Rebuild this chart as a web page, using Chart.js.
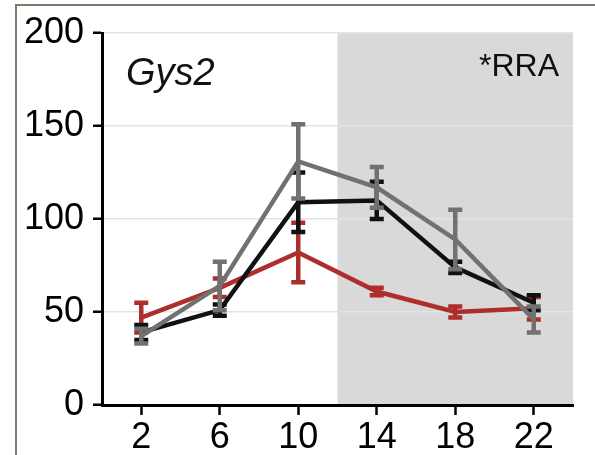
<!DOCTYPE html>
<html>
<head>
<meta charset="utf-8">
<script src="https://cdn.jsdelivr.net/npm/chart.js@4.4.1/dist/chart.umd.min.js"></script>
<style>
  html, body { margin: 0; padding: 0; background: #ffffff; }
  #wrap { width: 595px; height: 455px; position: relative; }
</style>
</head>
<body>
<div id="wrap"><canvas id="c" width="595" height="455"></canvas></div>
<script>
// ---- data ----
const hours = [2, 6, 10, 14, 18, 22];
const xTickLabels = [2, 6, 10, 14, 18, 22];
const yTickLabels = [0, 50, 100, 150, 200];
const redMean = [47, 63, 82, 61, 50, 52];
const redErr = [8, 5, 16, 2, 3, 6];
const blackMean = [39, 51, 109, 110, 74, 55];
const blackErr = [4, 3, 16, 10, 3, 4];
const grayMean = [37, 64, 131, 117, 89, 46];
const grayErr = [4, 13, 20, 11, 16, 7];
const darkPhase = [12, 24];
const geneLabel = 'Gys2';
const noteLabel = '*RRA';

const RED = '#ad2e2a', BLACK = '#111111', GRAY = '#717171';

function pts(ys) { return hours.map((h, i) => ({ x: h, y: ys[i] })); }

const errorSets = [redErr, blackErr, grayErr];

const shadePlugin = {
  id: 'shade',
  beforeDraw(chart) {
    const { ctx, chartArea: a, scales: { x } } = chart;
    ctx.save();
    ctx.fillStyle = '#d9d9d9';
    const x0 = x.getPixelForValue(darkPhase[0]);
    const x1 = x.getPixelForValue(darkPhase[1]);
    ctx.fillRect(x0, a.top, x1 - x0, a.bottom - a.top);
    ctx.restore();
  }
};

const errPlugin = {
  id: 'errbars',
  afterDatasetDraw(chart, args) {
    const i = args.index;
    const ds = chart.data.datasets[i];
    const errs = errorSets[i];
    const { ctx, scales: { x, y } } = chart;
    ctx.save();
    ctx.strokeStyle = ds.borderColor;
    ctx.lineWidth = 4.5;
    ctx.lineCap = 'butt';
    ds.data.forEach((p, k) => {
      const px = x.getPixelForValue(p.x);
      const yt = y.getPixelForValue(p.y + errs[k]);
      const yb = y.getPixelForValue(p.y - errs[k]);
      ctx.beginPath();
      ctx.moveTo(px, yt); ctx.lineTo(px, yb);
      ctx.moveTo(px - 7, yt); ctx.lineTo(px + 7, yt);
      ctx.moveTo(px - 7, yb); ctx.lineTo(px + 7, yb);
      ctx.stroke();
    });
    ctx.restore();
  }
};

const textPlugin = {
  id: 'texts',
  afterDraw(chart) {
    const { ctx } = chart;
    ctx.save();
    ctx.fillStyle = '#111';
    ctx.textBaseline = 'alphabetic';
    ctx.font = 'italic 38px "Liberation Sans", Arial, sans-serif';
    ctx.textAlign = 'left';
    ctx.fillText(geneLabel, 126, 85);
    ctx.font = '32px "Liberation Sans", Arial, sans-serif';
    ctx.textAlign = 'right';
    ctx.fillText(noteLabel, 559, 76);
    // frame
    ctx.strokeStyle = '#82776a';
    ctx.lineWidth = 2;
    ctx.beginPath();
    ctx.moveTo(16, 455); ctx.lineTo(16, 5); ctx.lineTo(595, 5);
    ctx.stroke();
    ctx.restore();
  }
};

new Chart(document.getElementById('c'), {
  type: 'line',
  data: {
    datasets: [
      { data: pts(redMean), borderColor: RED, order: 3 },
      { data: pts(blackMean), borderColor: BLACK, order: 2 },
      { data: pts(grayMean), borderColor: GRAY, order: 1 }
    ]
  },
  options: {
    responsive: false,
    animation: false,
    devicePixelRatio: 1,
    layout: { padding: { top: 33, right: 22, bottom: 0, left: 0 } },
    elements: {
      line: { borderWidth: 4.5, tension: 0, fill: false, borderJoinStyle: 'miter' },
      point: { radius: 0, hoverRadius: 0 }
    },
    plugins: { legend: { display: false }, tooltip: { enabled: false } },
    scales: {
      x: {
        type: 'linear', min: 0, max: 24,
        afterBuildTicks(s) { s.ticks = xTickLabels.map(v => ({ value: v })); },
        afterFit(s) { s.height = 50; },
        grid: { drawOnChartArea: false, tickColor: '#000', tickLength: 10, tickWidth: 2.5 },
        border: { color: '#000', width: 3 },
        ticks: { color: '#000', padding: 1, font: { size: 36, family: '"Liberation Sans", Arial, sans-serif' }, maxRotation: 0, autoSkip: false }
      },
      y: {
        min: 0, max: 200,
        afterBuildTicks(s) { s.ticks = yTickLabels.map(v => ({ value: v })); },
        afterFit(s) { s.width = 102; },
        grid: {
          color: c => (c.tick && c.tick.value > 0) ? '#e4e4e4' : 'rgba(0,0,0,0)',
          lineWidth: 1.5, tickColor: '#000', tickLength: 9, tickWidth: 2.5
        },
        border: { color: '#000', width: 3 },
        ticks: { color: '#000', padding: 9, font: { size: 36, family: '"Liberation Sans", Arial, sans-serif' } }
      }
    }
  },
  plugins: [shadePlugin, errPlugin, textPlugin]
});
</script>
</body>
</html>
